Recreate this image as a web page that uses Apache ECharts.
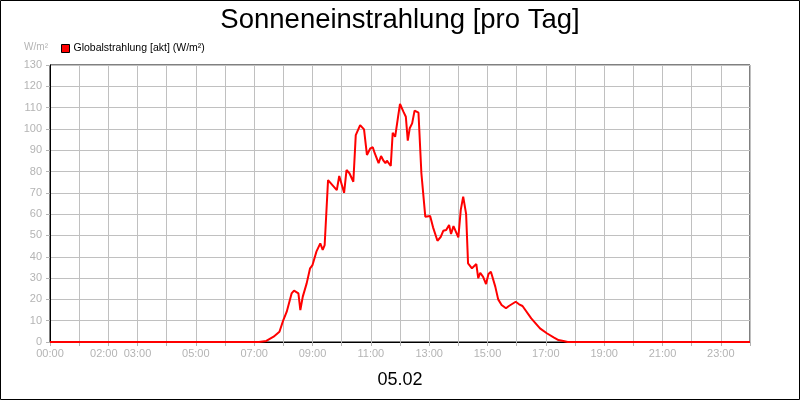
<!DOCTYPE html>
<html>
<head>
<meta charset="utf-8">
<script src="https://cdn.jsdelivr.net/npm/echarts@6/dist/echarts.min.js"></script>
<style>
  html, body { margin: 0; padding: 0; background: #fff; }
  #main { width: 800px; height: 400px; }
</style>
</head>
<body>
<div id="main"></div>
<script>
// Messzeitpunkte (HH:MM) und Globalstrahlung in W/m²
var times = ['00:00', '07:10', '07:25', '07:40', '07:52', '08:00', '08:07', '08:17', '08:22', '08:31',
  '08:35', '08:40', '08:48', '08:51', '08:55', '09:00', '09:08', '09:16', '09:21', '09:25',
  '09:32', '09:50', '09:55', '10:05', '10:10', '10:16', '10:24', '10:29', '10:38', '10:42',
  '10:46', '10:52', '10:55', '10:59', '11:04', '11:08', '11:16', '11:21', '11:26', '11:30',
  '11:33', '11:41', '11:45', '11:50', '11:53', '11:56', '12:00', '12:07', '12:12', '12:16',
  '12:20', '12:25', '12:30', '12:38', '12:44', '12:52', '13:02', '13:08', '13:17', '13:24',
  '13:29', '13:35', '13:41', '13:45', '13:50', '13:53', '14:00', '14:05', '14:10', '14:16',
  '14:20', '14:28', '14:37', '14:41', '14:45', '14:51', '14:57', '15:02', '15:07', '15:16',
  '15:22', '15:29', '15:38', '15:44', '15:48', '15:58', '16:05', '16:12', '16:30', '16:48',
  '17:02', '17:16', '17:26', '17:36', '17:45', '24:00'];
var values = [0, 0, 0.5, 2.5, 4.8, 10.3, 14.2, 22.8, 24.1, 22.8,
  15, 21.3, 27.5, 28.3, 34.6, 36.1, 42.4, 46.3, 43.2, 45.5,
  76, 71.3, 77.9, 70, 80.7, 79.2, 75.2, 97.1, 101.8, 102.6,
  99.8, 87.8, 87.3, 90.9, 91.4, 88.6, 83.9, 87.3, 85.1, 83.9,
  85.1, 82.6, 98.2, 96.3, 96.3, 105.7, 111.7, 108.1, 105.7, 94.5,
  100.3, 102.6, 108.6, 107.6, 79.2, 58.8, 59.1, 53.8, 47.5, 49.4,
  52.2, 52.6, 54.9, 50.7, 54.4, 53.5, 49.1, 62, 68.2, 60.1,
  36.9, 34.6, 36.6, 29.9, 32.5, 30.6, 27.2, 31.9, 33, 26,
  20, 17.4, 15.8, 16.9, 16.6, 18.9, 17.7, 16.9, 11.1, 6.4,
  4.1, 2.2, 0.9, 0.5, 0, 0];
var hourLabels = ['00:00', '02:00', '03:00', '05:00', '07:00', '09:00', '11:00',
  '13:00', '15:00', '17:00', '19:00', '21:00', '23:00'];

var font = 'Liberation Sans, Arial, sans-serif';
var gray = '#b4b4b4';

function toHours(s) {
  var p = s.split(':');
  return parseInt(p[0], 10) + parseInt(p[1], 10) / 60;
}

var points = [];
for (var i = 0; i < times.length; i++) {
  points.push([toHours(times[i]), values[i]]);
}

var myChart = echarts.init(document.getElementById('main'));
myChart.setOption({
  animation: false,
  backgroundColor: '#fff',
  textStyle: { fontFamily: font },
  title: [{
    text: 'Sonneneinstrahlung [pro Tag]',
    left: 'center',
    top: 1,
    textStyle: { fontSize: 27.5, fontWeight: 'normal', color: '#000', fontFamily: font }
  }, {
    text: '05.02',
    left: 'center',
    top: 366,
    textStyle: { fontSize: 18, fontWeight: 'normal', color: '#000', fontFamily: font }
  }],
  legend: {
    data: ['Globalstrahlung [akt] (W/m²)'],
    left: 56,
    top: 38,
    itemWidth: 8,
    itemHeight: 8,
    itemGap: 4,
    icon: 'rect',
    itemStyle: { borderColor: '#000', borderWidth: 1 },
    textStyle: { fontSize: 10.5, color: '#000', fontFamily: font, padding: [0, 0, 0, -1] }
  },
  grid: {
    left: 50,
    top: 65,
    width: 700,
    height: 277,
    show: true,
    borderColor: '#000',
    borderWidth: 1
  },
  xAxis: {
    type: 'value',
    min: 0,
    max: 24,
    interval: 1,
    axisLine: { lineStyle: { color: '#000', width: 1 } },
    axisTick: { length: 4, lineStyle: { color: gray } },
    splitLine: { show: true, lineStyle: { color: '#c0c0c0', width: 1 } },
    axisLabel: {
      color: gray,
      fontSize: 11,
      margin: 6,
      showMaxLabel: true,
      formatter: function (v) {
        var s = (v < 10 ? '0' + v : '' + v) + ':00';
        if (hourLabels.indexOf(s) < 0) return '';
        return s == '02:00' ? '{l|' + s + '}' : s;
      },
      rich: { l: { color: gray, fontSize: 11, padding: [0, 9, 0, 0] } }
    }
  },
  yAxis: {
    type: 'value',
    min: 0,
    max: 130,
    interval: 10,
    name: 'W/m²',
    nameGap: 13,
    nameTextStyle: { color: gray, fontSize: 10, align: 'right', padding: [0, 2, 0, 0] },
    axisLine: { show: true, lineStyle: { color: '#000', width: 1 } },
    axisTick: { show: true, length: 4, lineStyle: { color: gray } },
    splitLine: { show: true, lineStyle: { color: '#c0c0c0', width: 1 } },
    axisLabel: { color: gray, fontSize: 11, margin: 8 }
  },
  graphic: [{
    type: 'rect',
    shape: { x: 0.5, y: 0.5, width: 799, height: 399 },
    style: { fill: 'none', stroke: '#000', lineWidth: 1 },
    silent: true
  }],
  series: [{
    name: 'Globalstrahlung [akt] (W/m²)',
    type: 'line',
    data: points,
    showSymbol: false,
    symbol: 'none',
    itemStyle: { color: '#ff0000' },
    lineStyle: { color: '#ff0000', width: 2 }
  }]
});
</script>
</body>
</html>
